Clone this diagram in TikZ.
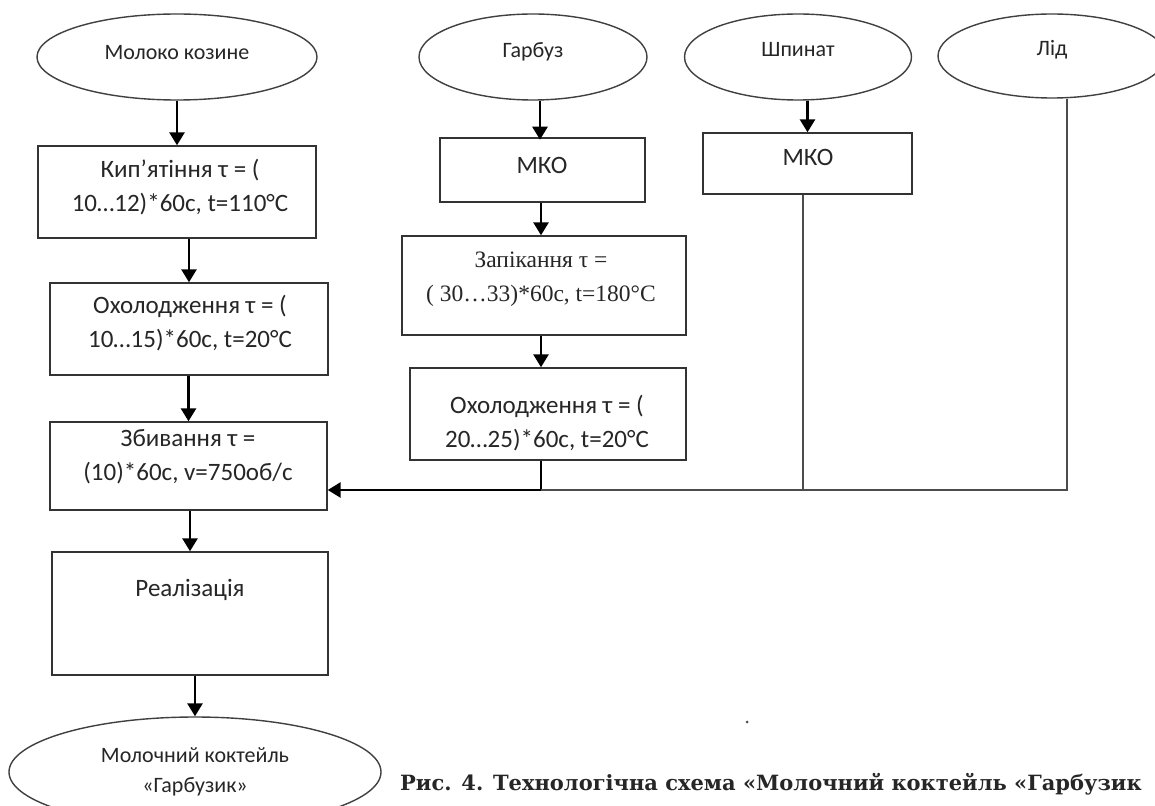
\documentclass[tikz,border=0pt]{standalone}
\usepackage{fontspec}
\setmainfont{Carlito}
\newfontfamily\serifx{Liberation Serif}
\newfontfamily\capfont{DejaVu Serif}
\usetikzlibrary{arrows.meta,shapes.geometric}
\tikzset{
  box/.style={draw=black!80, line width=1.4pt, rectangle, inner sep=0pt},
  oval/.style={draw=black!75, line width=1.4pt, ellipse, inner sep=0pt},
  txt/.style={align=center, inner sep=0pt, text=black!85, font=\fontsize{25}{34}\selectfont},
  stxt/.style={align=center, inner sep=0pt, text=black!85, font=\serifx\fontsize{23.5}{34}\selectfont},
  otxt/.style={align=center, inner sep=0pt, text=black!85, font=\fontsize{22}{30}\selectfont},
  arr/.style={line width=2.8pt, -{Triangle[width=15pt,length=13pt]}},
  thickline/.style={line width=2.8pt},
  thinline/.style={line width=1.4pt, draw=black!70},
}
\begin{document}
\begin{tikzpicture}[x=1pt,y=-1pt]
\useasboundingbox (0,0) rectangle (1155,805);
\clip (0,0) rectangle (1155,805);
\fill[white] (0,0) rectangle (1155,805);

% left column
\node[oval, minimum width=280pt, minimum height=86pt] (e1) at (177,57) {};
\node[otxt] (te1) at (177,53) {Молоко козине};
\node[box, minimum width=278pt, minimum height=92pt] (b1) at (177,192) {};
\node[txt] (tb1) at (180,187) {Кип’ятіння τ = (\\10…12)*60с, t=110°C};
\node[box, minimum width=278pt, minimum height=92pt] (b2) at (189,329) {};
\node[txt] (tb2) at (190,323) {Охолодження τ = (\\10…15)*60с, t=20°C};
\node[box, minimum width=277pt, minimum height=88pt] (b3) at (188.5,466) {};
\node[txt] (tb3) at (188,457) {Збивання τ =\\(10)*60с, v=750об/с};
\node[box, minimum width=276pt, minimum height=123pt] (b4) at (190,613.5) {};
\node[txt] (tb4) at (190,590) {Реалізація};
\node[oval, minimum width=372pt, minimum height=110pt] (e5) at (195,772) {};
\node[otxt] (te5) at (195,772) {Молочний коктейль\\«Гарбузик»};

% middle column
\node[oval, minimum width=228pt, minimum height=86pt] (e2) at (533,57) {};
\node[otxt] (te2) at (533,52) {Гарбуз};
\node[box, minimum width=205pt, minimum height=64pt] (m1) at (542.5,170) {};
\node[txt] (tm1) at (542,165) {МКО};
\node[box, minimum width=284pt, minimum height=99pt] (z1) at (544,285.5) {};
\node[stxt] (tz1) at (541,279) {Запікання τ =\\( 30…33)*60с, t=180°C};
\node[box, minimum width=276pt, minimum height=92pt] (o2) at (548,414) {};
\node[txt] (to2) at (547,423) {Охолодження τ = (\\20…25)*60с, t=20°C};

% right columns
\node[oval, minimum width=227pt, minimum height=86pt] (e3) at (798,57) {};
\node[otxt] (te3) at (798,50) {Шпинат};
\node[box, minimum width=209pt, minimum height=61pt] (m2) at (807.5,163.5) {};
\node[txt] (tm2) at (808,157) {МКО};
\node[oval, minimum width=228pt, minimum height=84pt] (e4) at (1052,56) {};
\node[otxt] (te4) at (1052,50) {Лід};

% junctions
\coordinate (j1) at (541,490);
\coordinate (j2) at (803,490);
\coordinate (j3) at (1067,490);

% connectors left
\draw[arr] (e1.south) -- (b1.north);
\draw[arr] (b2.north |- b1.south) -- (b2.north);
\draw[arr] (b3.north |- b2.south) -- (b3.north);
\draw[arr] (b4.north |- b3.south) -- (b4.north);
\draw[arr] (e5.north |- b4.south) -- (e5.north);

% connectors middle
\draw[arr] (e2.south -| m1.north) ++(-2.5,0) -- ++(0,39);
\draw[arr] (j1 |- m1.south) -- (j1 |- z1.north);
\draw[arr] (j1 |- z1.south) -- (j1 |- o2.north);
\draw[thickline] (j1 |- o2.south) -- (j1);
\draw[arr] (j1) -- (b3.east |- j1);

% right connectors
\draw[arr] (e3.south -| m2.north) -- (m2.north);
\draw[thinline] (j2 |- m2.south) -- (j2);
\draw[thinline] (j3 |- e4.south) -- (j3) -- (j1);

% stray dot
\fill[black!70] (747,722) circle (1.5pt);

% caption
\node[anchor=base west, inner sep=0pt, font=\capfont\bfseries\fontsize{21}{26}\selectfont, text=black!85] (cap) at (400,790)
  {Рис. 4. Технологічна схема «Молочний коктейль «Гарбузик};
\end{tikzpicture}
\end{document}
